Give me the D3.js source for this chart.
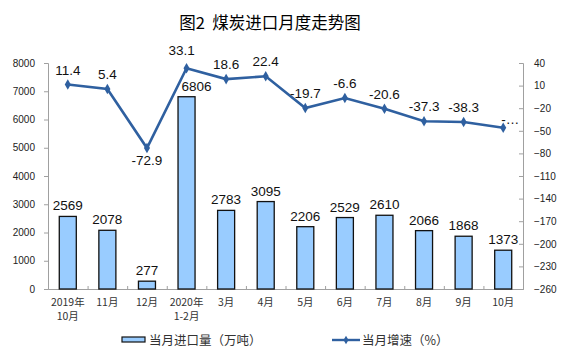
<!DOCTYPE html>
<html><head><meta charset="utf-8">
<script src="https://cdn.jsdelivr.net/npm/d3@7"></script>
<style>
html,body{margin:0;padding:0;background:#fff;}
svg{display:block;}
</style></head>
<body>
<svg id="c" width="561" height="357"></svg>
<script>
const categories = [["2019年","10月"],["11月"],["12月"],["2020年","1-2月"],["3月"],["4月"],["5月"],["6月"],["7月"],["8月"],["9月"],["10月"]];
const importVolume = [2569, 2078, 277, 6806, 2783, 3095, 2206, 2529, 2610, 2066, 1868, 1373];
const growthRate = [11.4, 5.4, -72.9, 33.1, 18.6, 22.4, -19.7, -6.6, -20.6, -37.3, -38.3, -46.0];
const growthLabels = ["11.4","5.4","-72.9","33.1","18.6","22.4","-19.7","-6.6","-20.6","-37.3","-38.3","-…"];
const leftTicks = [0,1000,2000,3000,4000,5000,6000,7000,8000];
const rightTicks = [40,10,-20,-50,-80,-110,-140,-170,-200,-230,-260];
const title = "图2  煤炭进口月度走势图";
const legendBar = "当月进口量（万吨）";
const legendLine = "当月增速（%）";

const svg = d3.select("#c");
const L = 48, R = 523, T = 63, B = 289;
const idx = categories.map((d,i)=>i);
const x = d3.scaleBand().domain(idx).range([L,R]).paddingInner(0.57).paddingOuter(0.285);
const xc = i => x(i) + x.bandwidth()/2;
const yL = d3.scaleLinear().domain([0,8000]).range([B,T]);
const yR = d3.scaleLinear().domain([-260,40]).range([B,T]);
const axisColor = "#a0a0a0";
const sans = "'Liberation Sans', Arial, sans-serif";
const cjk = "'Noto Sans CJK SC', sans-serif";

// title
svg.append("text").attr("x",270).attr("y",29).attr("text-anchor","middle")
  .style("white-space","pre")
  .style("font-family",cjk).style("font-size","16.5px").style("font-weight","normal").attr("fill","#000").text(title);

// left axis
const gl = svg.append("g").attr("transform",`translate(${L},0)`)
  .call(d3.axisLeft(yL).tickValues(leftTicks).tickSize(4).tickPadding(9).tickFormat(d3.format("d")));
gl.select(".domain").attr("stroke",axisColor);
gl.selectAll(".tick line").attr("stroke",axisColor);
gl.selectAll("text").style("font-family",sans).style("font-size","10px").attr("fill","#222");

// right axis
const gr = svg.append("g").attr("transform",`translate(${R},0)`)
  .call(d3.axisRight(yR).tickValues(rightTicks).tickSize(-4).tickPadding(11));
gr.select(".domain").attr("stroke",axisColor);
gr.selectAll(".tick line").attr("stroke",axisColor);
gr.selectAll("text").style("font-family",sans).style("font-size","10px").attr("fill","#222");

// x axis baseline with boundary ticks
const xb = d3.scaleLinear().domain([0,categories.length]).range([L,R]);
const gx = svg.append("g").attr("transform",`translate(0,${B})`)
  .call(d3.axisBottom(xb).tickValues(d3.range(1,categories.length)).tickSize(-3).tickFormat(""));
gx.select(".domain").attr("stroke",axisColor);
gx.selectAll(".tick line").attr("stroke",axisColor);

// category labels
const cl = svg.append("g");
categories.forEach((lines,i)=>{
  const t = cl.append("text").attr("x",xc(i)).attr("y",306).attr("text-anchor","middle")
    .style("font-family",cjk).style("font-size","10.5px").attr("fill","#333");
  lines.forEach((s,j)=>t.append("tspan").attr("x",xc(i)).attr("dy", j===0?0:14).text(s));
});

// bars
svg.append("g").selectAll("rect").data(importVolume).join("rect")
  .attr("x",(d,i)=>x(i)).attr("width",x.bandwidth())
  .attr("y",d=>yL(d)).attr("height",d=>B-yL(d))
  .attr("fill","#99ccff").attr("stroke","#111").attr("stroke-width",1.3);

// line
const lineColor = "#2f60a0";
svg.append("path").datum(growthRate)
  .attr("d", d3.line().x((d,i)=>xc(i)).y(d=>yR(d)))
  .attr("fill","none").attr("stroke",lineColor).attr("stroke-width",2.6);
svg.append("g").selectAll("path").data(growthRate).join("path")
  .attr("transform",(d,i)=>`translate(${xc(i)},${yR(d)})`)
  .attr("d", d3.symbol().type(d3.symbolDiamond).size(32))
  .attr("fill",lineColor);

svg.append("g").selectAll("text").data(importVolume).join("text")
  .attr("x",(d,i)=> i===3 ? xc(i)+10 : xc(i)).attr("y",d=>yL(d)-6).attr("text-anchor","middle")
  .style("font-family",sans).style("font-size","13.5px").attr("fill","#111").text(d=>d);

svg.append("g").selectAll("text").data(growthRate).join("text")
  .attr("x",(d,i)=> i===11 ? xc(i)-2 : (i===3 ? xc(i)-5 : xc(i)))
  .attr("y",(d,i)=> i===2 ? yR(d)+17 : (i===11 ? yR(d)-4 : (i===3 ? yR(d)-13 : yR(d)-10)))
  .attr("text-anchor",(d,i)=> i===11 ? "start" : "middle")
  .style("font-family",sans).style("font-size","13.5px").attr("fill","#111")
  .text((d,i)=>growthLabels[i]);

// legend
const lg = svg.append("g");
lg.append("rect").attr("x",122).attr("y",337).attr("width",23).attr("height",5)
  .attr("fill","#99ccff").attr("stroke","#111").attr("stroke-width",1.2);
lg.append("text").attr("x",149).attr("y",344.5)
  .style("font-family",cjk).style("font-size","12.5px").attr("fill","#333").text(legendBar);
lg.append("line").attr("x1",332).attr("x2",360).attr("y1",340).attr("y2",340)
  .attr("stroke",lineColor).attr("stroke-width",2.4);
lg.append("path").attr("transform","translate(346,340)")
  .attr("d", d3.symbol().type(d3.symbolDiamond).size(22)).attr("fill",lineColor);
lg.append("text").attr("x",362).attr("y",344.5)
  .style("font-family",cjk).style("font-size","12.5px").attr("fill","#333").text(legendLine);
</script>
</body></html>
